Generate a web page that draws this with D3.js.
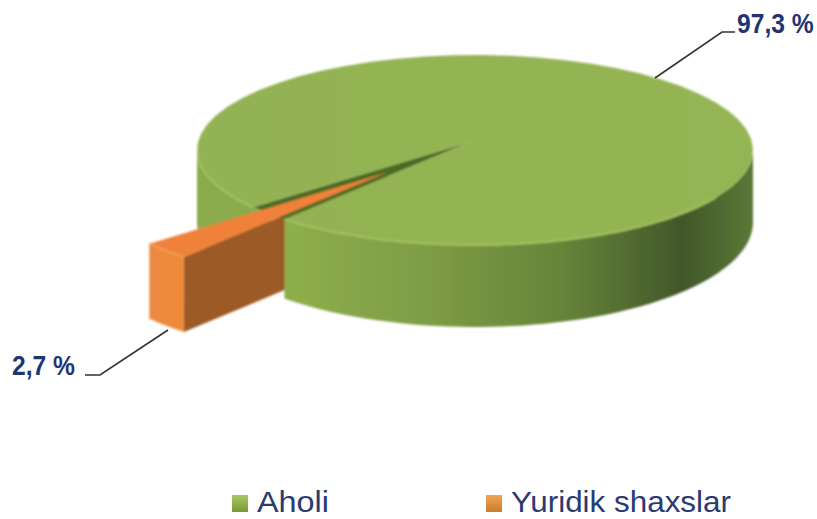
<!DOCTYPE html>
<html>
<head>
<meta charset="utf-8">
<title>Aholi va yuridik shaxslar</title>
<style>
html, body { margin: 0; padding: 0; background: #fff; }
svg { display: block; }
.pct { font: bold 28px "Liberation Sans", sans-serif; fill: #1f3573; }
.leg { font: 30px "Liberation Sans", sans-serif; fill: #2b3a70; }
.leader { fill: none; stroke: #333; stroke-width: 1.6; }
</style>
</head>
<body>
<script src="https://cdn.jsdelivr.net/npm/d3@7"></script>
<script>

var categories = ["Aholi", "Yuridik shaxslar"];
var values = [97.3, 2.7];
var valueLabels = ["97,3 %", "2,7 %"];

var width = 817, height = 519;
var toRad = Math.PI / 180;

// ellipse of the pie top
var cx = 475, cy = 150, rx = 278, ry = 95;
var apex = [470, 142];
// how far the small slice is pulled out and enlarged
var pull = [-82, 30], sliceScale = 1.1, sliceDepth = 75;

var x = d3.scaleLinear().domain([-1, 1]).range([cx - rx, cx + rx]);
var y = d3.scaleLinear().domain([-1, 1]).range([cy - ry, cy + ry]);

var pie = d3.pie().sort(null)
    .startAngle(233 * toRad)
    .endAngle(593 * toRad);
var slices = pie(values);
var aholi = slices[0], yuridik = slices[1];

var line = d3.line();

function rim(a) {
  return [x(Math.sin(a)), y(-Math.cos(a))];
}
// wall is a bit taller at the front than on the sides
function rimLow(a) {
  var p = rim(a);
  return [p[0], p[1] + 72 - 10 * Math.cos(a)];
}
function samples(a0, a1) {
  return d3.range(0, 61).map(function(i) { return a0 + (a1 - a0) * i / 60; });
}
function wall(a0, a1) {
  return line(samples(a0, a1).map(rim).concat(samples(a1, a0).map(rimLow))) + "Z";
}
function slicePoint(a) {
  var p = rim(a);
  return [apex[0] + pull[0] + (p[0] - apex[0]) * sliceScale,
          apex[1] + pull[1] + (p[1] - apex[1]) * sliceScale];
}

var svg = d3.select("body").append("svg")
    .attr("width", width)
    .attr("height", height);

var defs = svg.append("defs");
defs.append("filter").attr("id", "soft")
  .append("feGaussianBlur").attr("stdDeviation", 0.9);

function gradient(id, x1, x2, y1, y2, stops) {
  var g = defs.append("linearGradient").attr("id", id)
      .attr("gradientUnits", "userSpaceOnUse")
      .attr("x1", x1).attr("x2", x2).attr("y1", y1).attr("y2", y2);
  stops.forEach(function(s) {
    g.append("stop").attr("offset", s[0]).attr("stop-color", s[1]);
  });
}
gradient("sideG", 285, 753, 0, 0, [[0, "#8fae4c"], [0.3, "#7f9d45"], [0.6, "#668339"],
    [0.85, "#41572a"], [1, "#5c7836"]]);
gradient("topG", 198, 753, 0, 0, [[0, "#93b252"], [1, "#95b554"]]);
gradient("swG", 0, 0, 495, 513, [[0, "#a9c95f"], [1, "#769438"]]);
gradient("swO", 0, 0, 495, 513, [[0, "#f0a555"], [1, "#c87a2c"]]);
gradient("endO", 148, 184, 0, 0, [[0, "#e88a42"], [1, "#f08a38"]]);

var pieG = svg.append("g").attr("filter", "url(#soft)");

// left bit of the wall, starts a little early so it runs in under the orange slice
pieG.append("path")
    .attr("d", wall(aholi.startAngle - 5 * toRad, 270 * toRad))
    .attr("fill", "#8aaa4b");

// orange slice, its inner face and its end
var tip = [apex[0] + pull[0], apex[1] + pull[1]];
var a0 = slicePoint(yuridik.startAngle);
var sliceArc = samples(yuridik.startAngle, yuridik.endAngle).map(slicePoint);

pieG.append("path")
    .attr("d", line([tip, a0, [a0[0], a0[1] + sliceDepth], [tip[0], tip[1] + sliceDepth]]) + "Z")
    .attr("fill", "#9c5a26");

pieG.append("path")
    .attr("d", line(sliceArc.concat(sliceArc.slice().reverse().map(function(p) {
      return [p[0], p[1] + sliceDepth];
    }))) + "Z")
    .attr("fill", "url(#endO)");

// main wall in front
pieG.append("path")
    .attr("d", wall(90 * toRad, aholi.endAngle - 360 * toRad))
    .attr("fill", "url(#sideG)");

// dark gap left by the pulled slice
pieG.append("path")
    .attr("d", line([apex, rim(yuridik.startAngle), rim(yuridik.endAngle)]) + "Z")
    .attr("fill", "#4b6a22");

// top of the big slice
var topPts = samples(aholi.startAngle, aholi.endAngle).map(rim);
pieG.append("path")
    .attr("d", line([apex].concat(topPts)) + "Z")
    .attr("fill", "url(#topG)");

// light bevel on the rim
pieG.append("path")
    .attr("d", line(samples(120 * toRad, aholi.endAngle - 360 * toRad).map(rim)))
    .attr("fill", "none").attr("stroke", "#a4c262").attr("stroke-width", 2);
pieG.append("path")
    .attr("d", line(samples(aholi.startAngle, 265 * toRad).map(rim)))
    .attr("fill", "none").attr("stroke", "#a4c262").attr("stroke-width", 2);

// top of orange slice
pieG.append("path")
    .attr("d", line([tip].concat(sliceArc)) + "Z")
    .attr("fill", "#f0813a");
pieG.append("path")
    .attr("d", line(sliceArc))
    .attr("fill", "none").attr("stroke", "#f59a55").attr("stroke-width", 2);

// leaders and value labels
svg.append("path").attr("class", "leader")
    .attr("d", line([[655, 78], [722, 32], [735, 32]]));
svg.append("path").attr("class", "leader")
    .attr("d", line([[168, 330], [100, 375], [85, 375]]));

// narrow look of the labels, no condensed font here
svg.append("text").attr("class", "pct")
    .attr("transform", "translate(737,33) scale(0.88,1)")
    .text(valueLabels[0]);
svg.append("text").attr("class", "pct")
    .attr("transform", "translate(12,375) scale(0.88,1)")
    .text(valueLabels[1]);

// legend
var legendX = [232, 486], legendLen = [72, 220], legendFill = ["url(#swG)", "url(#swO)"];
var legend = svg.selectAll(".legendItem")
    .data(categories)
  .enter().append("g")
    .attr("class", "legendItem")
    .attr("transform", function(d, i) { return "translate(" + legendX[i] + ",0)"; });

legend.append("rect")
    .attr("y", 495)
    .attr("width", 16)
    .attr("height", 17)
    .attr("fill", function(d, i) { return legendFill[i]; });

legend.append("text")
    .attr("class", "leg")
    .attr("x", 25)
    .attr("y", 512)
    .attr("textLength", function(d, i) { return legendLen[i]; })
    .attr("lengthAdjust", "spacingAndGlyphs")
    .text(function(d) { return d; });

</script>
</body>
</html>
